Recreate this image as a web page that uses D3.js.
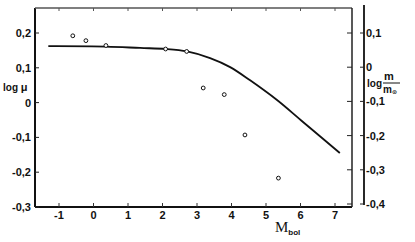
<!DOCTYPE html>
<html>
<head>
<meta charset="utf-8">
<script src="https://cdn.jsdelivr.net/npm/d3@7.9.0/dist/d3.min.js"></script>
<style>
  body { margin: 0; background: #fff; }
  svg { display: block; }
  text { font-family: "Liberation Sans", Arial, sans-serif; font-weight: bold; fill: #111; }
</style>
</head>
<body>
<svg id="chart" width="415" height="242"></svg>
<script>
// observed points (M_bol, log mu)
const obsM = [-0.6, -0.22, 0.36, 2.09, 2.70, 3.18, 3.79, 4.39, 5.36];
const obsLogMu = [0.192, 0.178, 0.164, 0.154, 0.147, 0.042, 0.023, -0.093, -0.217];

// theoretical curve
const curveM = [-1.31, 0.36, 1.35, 2.10, 2.71, 3.38, 3.96, 4.54, 5.31, 6.03, 7.14];
const curveLogMu = [0.162, 0.161, 0.157, 0.154, 0.147, 0.128, 0.102, 0.064, 0.008, -0.052, -0.145];

const xTicks = [-1, 0, 1, 2, 3, 4, 5, 6, 7];
const yTicks = [-0.3, -0.2, -0.1, 0, 0.1, 0.2];
const yRightTicks = [-0.4, -0.3, -0.2, -0.1, 0, 0.1];

const svg = d3.select('#chart');

const x = d3.scaleLinear().domain([-1, 7]).range([59, 335]);
const y = d3.scaleLinear().domain([-0.3, 0.2]).range([207, 33]);
const yR = d3.scaleLinear().domain([-0.4, 0.1]).range([204, 33]);

const box = { left: 35, right: 352, top: 8, bottom: 207 };
const fmt = (v) => (Math.abs(v) < 1e-9 ? '0' : d3.format('.1f')(v).replace('.', ',').replace('−', '-'));

// frame
svg.append('line').attr('x1', box.left).attr('x2', box.left).attr('y1', box.top).attr('y2', box.bottom)
  .attr('stroke', '#111').attr('stroke-width', 2);
svg.append('line').attr('x1', box.left).attr('x2', box.right).attr('y1', box.bottom).attr('y2', box.bottom)
  .attr('stroke', '#111').attr('stroke-width', 2);
svg.append('line').attr('x1', box.left).attr('x2', box.right).attr('y1', box.top).attr('y2', box.top)
  .attr('stroke', '#555').attr('stroke-width', 1.3);
svg.append('line').attr('x1', box.right).attr('x2', box.right).attr('y1', box.top).attr('y2', box.bottom)
  .attr('stroke', '#222').attr('stroke-width', 1.5);

// x ticks (bottom and top, pointing in)
xTicks.forEach((t) => {
  svg.append('line').attr('x1', x(t)).attr('x2', x(t)).attr('y1', box.bottom).attr('y2', box.bottom - 4)
    .attr('stroke', '#333').attr('stroke-width', 1);
  svg.append('line').attr('x1', x(t)).attr('x2', x(t)).attr('y1', box.top).attr('y2', box.top + 3)
    .attr('stroke', '#555').attr('stroke-width', 1);
  svg.append('text').attr('x', x(t)).attr('y', 219).attr('text-anchor', 'middle')
    .attr('font-size', 11).text(t < 0 ? '-' + Math.abs(t) : t);
});

// left y ticks
yTicks.forEach((t) => {
  svg.append('line').attr('x1', box.left).attr('x2', box.left + 4).attr('y1', y(t)).attr('y2', y(t))
    .attr('stroke', '#222').attr('stroke-width', 1);
  svg.append('text').attr('x', 31).attr('y', y(t) + 4).attr('text-anchor', 'end')
    .attr('font-size', 11).text(fmt(t));
});

// inner ticks on right side of box
yRightTicks.forEach((t) => {
  svg.append('line').attr('x1', box.right - 5).attr('x2', box.right).attr('y1', yR(t)).attr('y2', yR(t))
    .attr('stroke', '#222').attr('stroke-width', 1);
});

// separate right axis
svg.append('line').attr('x1', 364).attr('x2', 364).attr('y1', 5).attr('y2', 205)
  .attr('stroke', '#111').attr('stroke-width', 1.8);
yRightTicks.forEach((t) => {
  svg.append('line').attr('x1', 360).attr('x2', 364).attr('y1', yR(t)).attr('y2', yR(t))
    .attr('stroke', '#222').attr('stroke-width', 1);
  svg.append('text').attr('x', 366).attr('y', yR(t) + 4).attr('text-anchor', 'start')
    .attr('font-size', 11).text(fmt(t));
});

// curve
const line = d3.line().x((d) => x(d[0])).y((d) => y(d[1])).curve(d3.curveCatmullRom.alpha(0.5));
svg.append('path').datum(curveM.map((m, i) => [m, curveLogMu[i]]))
  .attr('d', line).attr('fill', 'none').attr('stroke', '#111').attr('stroke-width', 1.8);

// points
svg.selectAll('circle.obs').data(obsM).join('circle').attr('class', 'obs')
  .attr('cx', (d) => x(d)).attr('cy', (d, i) => y(obsLogMu[i])).attr('r', 1.9)
  .attr('fill', '#fff').attr('stroke', '#111').attr('stroke-width', 1);

// axis labels
const lm = svg.append('text').attr('x', 3).attr('y', 91).attr('font-size', 10);
lm.append('tspan').text('log ');
lm.append('tspan').attr('font-size', 11).text('μ');

const mb = svg.append('text').attr('x', 275).attr('y', 232);
mb.append('tspan').attr('font-family', '"Liberation Serif", serif').attr('font-weight', 'normal')
  .attr('font-size', 15).text('M');
mb.append('tspan').attr('font-size', 8).attr('dy', 3).text('bol');

svg.append('text').attr('x', 367).attr('y', 87).attr('font-size', 10).text('log');
svg.append('text').attr('x', 384).attr('y', 80).attr('font-size', 11)
  .attr('font-family', '"Liberation Serif", serif').text('m');
svg.append('line').attr('x1', 383).attr('x2', 400).attr('y1', 83).attr('y2', 83)
  .attr('stroke', '#111').attr('stroke-width', 1);
const md = svg.append('text').attr('x', 383).attr('y', 93).attr('font-size', 10)
  .attr('font-family', '"Liberation Serif", serif');
md.append('tspan').text('m');
md.append('tspan').attr('font-size', 6).attr('dy', 1).attr('font-family', '"DejaVu Sans", sans-serif').text('⊙');
</script>
</body>
</html>
